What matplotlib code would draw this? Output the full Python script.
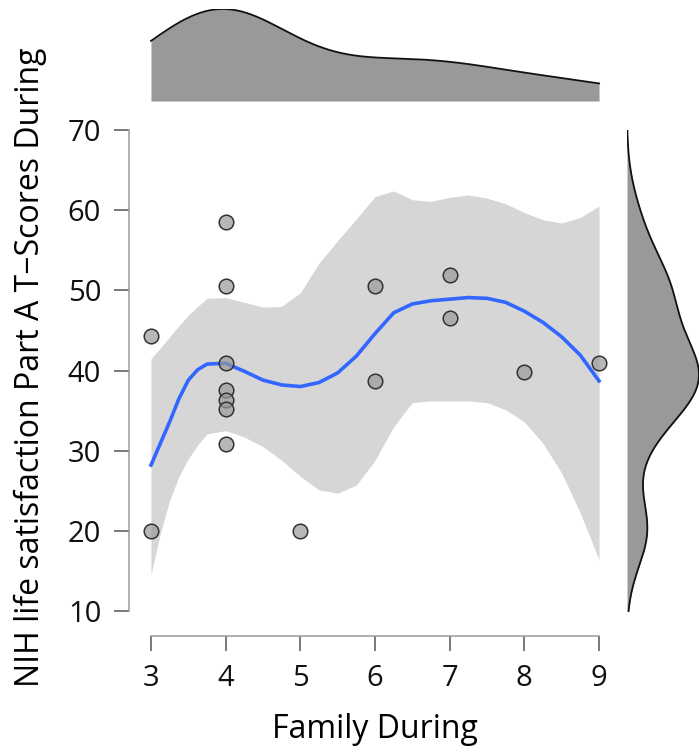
import numpy as np
import matplotlib
matplotlib.use("Agg")
import matplotlib.pyplot as plt

plt.rcParams["font.family"] = ["Open Sans", "DejaVu Sans"]

# observed data
family = [3, 3, 4, 4, 4, 4, 4, 4, 4, 5, 6, 6, 7, 7, 8, 9]
nih = [44.3, 20.0, 58.5, 50.5, 40.9, 37.6, 36.3, 35.2, 30.8, 20.0,
       50.5, 38.7, 51.9, 46.6, 39.8, 40.9]

# smooth fit and confidence band
smooth_x = [3, 3.125, 3.25, 3.375, 3.5, 3.625, 3.75, 4, 4.25, 4.5, 4.75, 5, 5.25, 5.5, 5.75,
            6, 6.25, 6.5, 6.75, 7, 7.25, 7.5, 7.75, 8, 8.25, 8.5, 8.75, 9]
smooth_fit = [28.2, 30.9, 33.6, 36.5, 38.8, 40.1, 40.8, 40.9, 39.9, 38.8, 38.2, 38.0, 38.5, 39.7,
              41.8, 44.6, 47.2, 48.3, 48.7, 48.9, 49.1, 49.0, 48.5, 47.4, 46.0, 44.2, 41.9, 38.7]
smooth_hi = [41.5, 42.8, 44.2, 45.6, 46.9, 48.0, 49.0, 49.1, 48.5, 47.9, 48.0, 49.7, 53.4, 56.2,
             58.9, 61.7, 62.4, 61.3, 61.1, 61.6, 61.9, 61.5, 60.8, 59.7, 58.8, 58.4, 59.1, 60.5]
smooth_lo = [14.5, 19.7, 23.8, 26.8, 29.0, 30.7, 32.1, 32.5, 31.7, 30.5, 28.8, 26.8, 25.1, 24.7,
             25.7, 28.8, 33.0, 36.0, 36.2, 36.2, 36.2, 36.0, 35.1, 33.6, 30.9, 27.2, 22.2, 16.4]

x_ticks = [3, 4, 5, 6, 7, 8, 9]
y_ticks = [10, 20, 30, 40, 50, 60, 70]


def kde(data, grid):
    # gaussian kernel density, bandwidth like R's bw.nrd0
    d = np.asarray(data, float)
    sd = d.std(ddof=1)
    iqr = np.subtract(*np.percentile(d, [75, 25]))
    bw = 0.9 * min(sd, iqr / 1.34) * len(d) ** -0.2
    z = (grid[:, None] - d[None, :]) / bw
    return np.exp(-0.5 * z ** 2).sum(axis=1) / (len(d) * bw * np.sqrt(2 * np.pi))


W, H = 699, 754
fig = plt.figure(figsize=(W / 100, H / 100), dpi=100)


def box(l, t, r, b):
    return [l / W, 1 - b / H, (r - l) / W, (b - t) / H]


xlim = (2.7054, 9.147)
ylim = (6.882, 70)

ax = fig.add_axes(box(129, 130, 610, 636))
ax.fill_between(smooth_x, smooth_lo, smooth_hi, color="#d6d6d6", lw=0, zorder=1)
ax.plot(smooth_x, smooth_fit, color="#3366ff", lw=2.6, zorder=2, solid_joinstyle="round")
ax.scatter(family, nih, s=110, facecolor=(0.6, 0.6, 0.6, 0.7), edgecolor="#333333",
           linewidth=1.1, zorder=3)
ax.set_xlim(*xlim)
ax.set_ylim(*ylim)
ax.set_xticks(x_ticks)
ax.set_yticks(y_ticks)
for s in ["top", "right"]:
    ax.spines[s].set_visible(False)
ax.spines["left"].set_bounds(10, 70)
ax.spines["bottom"].set_bounds(3, 9)
for s in ["left", "bottom"]:
    ax.spines[s].set_color("#9a9a9a")
    ax.spines[s].set_linewidth(1.1)
ax.tick_params(length=11, width=1.1, color="#555555", labelsize=21, pad=9,
               labelcolor="#111111")
fig.text(375 / W, 1 - 729 / H, "Family During", ha="center", va="center", fontsize=23)
fig.text(30 / W, 1 - 367 / H, "NIH life satisfaction Part A T\u2212Scores During",
         rotation=90, ha="center", va="center", fontsize=23)

# top marginal density
axt = fig.add_axes(box(129, 9, 610, 101))
gx = np.linspace(3, 9, 400)
dx = kde(family, gx)
axt.fill_between(gx, 0, dx, color="#999999", lw=0)
axt.plot(gx, dx, color="#111111", lw=1.3)
axt.set_xlim(*xlim)
axt.set_ylim(0, dx.max())
axt.axis("off")

# right marginal density
axr = fig.add_axes(box(627, 130, 699, 636))
gy = np.linspace(10, 70, 400)
dy = kde(nih, gy)
axr.fill_betweenx(gy, 0, dy, color="#999999", lw=0)
axr.plot(dy, gy, color="#111111", lw=1.3)
axr.set_ylim(*ylim)
axr.set_xlim(0, dy.max())
axr.axis("off")

fig.savefig("out.png", dpi=100)
